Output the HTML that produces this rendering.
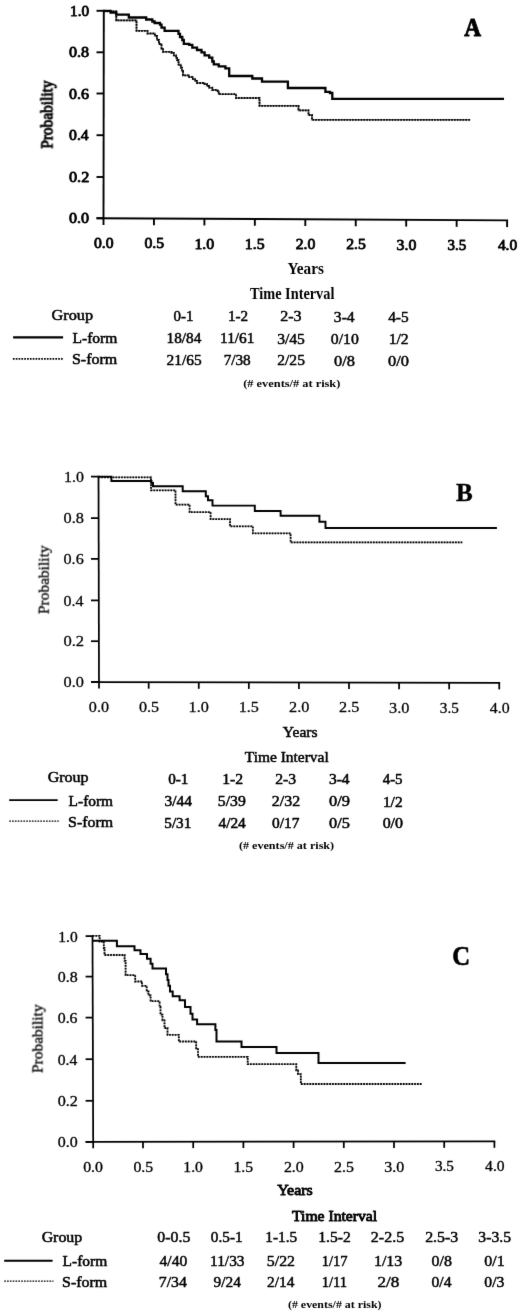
<!DOCTYPE html>
<html><head><meta charset="utf-8"><style>
html,body{margin:0;padding:0;background:#fff;}
body{width:520px;height:1313px;overflow:hidden;}
svg{display:block;font-family:"Liberation Serif", serif;}
text{fill:#000;}
</style></head><body>
<svg width="520" height="1313" viewBox="0 0 520 1313">
<defs><filter id="soft" x="0" y="0" width="520" height="1313" filterUnits="userSpaceOnUse" color-interpolation-filters="sRGB"><feConvolveMatrix order="3" kernelMatrix="0.0052 0.0619 0.0052 0.0619 0.7314 0.0619 0.0052 0.0619 0.0052" divisor="1" preserveAlpha="false" edgeMode="none"/></filter></defs>
<rect width="520" height="1313" fill="#fff"/>
<g filter="url(#soft)">
<text transform="matrix(15.223,0,0,14.632,70.055,15.956)" font-size="1" stroke="#000" stroke-width="0.85" vector-effect="non-scaling-stroke" stroke-linejoin="round">1.0</text>
<text transform="matrix(16.111,0,0,14.632,68.981,57.456)" font-size="1" stroke="#000" stroke-width="0.85" vector-effect="non-scaling-stroke" stroke-linejoin="round">0.8</text>
<text transform="matrix(15.975,0,0,14.632,68.986,98.656)" font-size="1" stroke="#000" stroke-width="0.85" vector-effect="non-scaling-stroke" stroke-linejoin="round">0.6</text>
<text transform="matrix(15.774,0,0,14.632,68.994,140.356)" font-size="1" stroke="#000" stroke-width="0.85" vector-effect="non-scaling-stroke" stroke-linejoin="round">0.4</text>
<text transform="matrix(16.32,0,0,14.632,68.972,182.156)" font-size="1" stroke="#000" stroke-width="0.85" vector-effect="non-scaling-stroke" stroke-linejoin="round">0.2</text>
<text transform="matrix(16.111,0,0,14.632,68.981,223.356)" font-size="1" stroke="#000" stroke-width="0.85" vector-effect="non-scaling-stroke" stroke-linejoin="round">0.0</text>
<text transform="matrix(15.684,0,0,14.779,93.998,247.953)" font-size="1" stroke="#000" stroke-width="0.85" vector-effect="non-scaling-stroke" stroke-linejoin="round">0.0</text>
<text transform="matrix(15.684,0,0,14.779,144.448,248.241)" font-size="1" stroke="#000" stroke-width="0.85" vector-effect="non-scaling-stroke" stroke-linejoin="round">0.5</text>
<text transform="matrix(15.848,0,0,14.779,194.399,248.528)" font-size="1" stroke="#000" stroke-width="0.85" vector-effect="non-scaling-stroke" stroke-linejoin="round">1.0</text>
<text transform="matrix(15.848,0,0,15,244.849,248.812)" font-size="1" stroke="#000" stroke-width="0.85" vector-effect="non-scaling-stroke" stroke-linejoin="round">1.5</text>
<text transform="matrix(15.751,0,0,14.779,295.716,249.103)" font-size="1" stroke="#000" stroke-width="0.85" vector-effect="non-scaling-stroke" stroke-linejoin="round">2.0</text>
<text transform="matrix(15.751,0,0,14.889,346.166,249.389)" font-size="1" stroke="#000" stroke-width="0.85" vector-effect="non-scaling-stroke" stroke-linejoin="round">2.5</text>
<text transform="matrix(15.819,0,0,14.779,396.534,249.678)" font-size="1" stroke="#000" stroke-width="0.85" vector-effect="non-scaling-stroke" stroke-linejoin="round">3.0</text>
<text transform="matrix(14.957,0,0,14.889,447.527,249.964)" font-size="1" stroke="#000" stroke-width="0.85" vector-effect="non-scaling-stroke" stroke-linejoin="round">3.5</text>
<text transform="matrix(15.42,0,0,14.779,497.917,250.253)" font-size="1" stroke="#000" stroke-width="0.85" vector-effect="non-scaling-stroke" stroke-linejoin="round">4.0</text>
<text transform="matrix(0,-15.397,15.667,0,52.76,148.812)" font-size="1" stroke="#000" stroke-width="0.9" vector-effect="non-scaling-stroke" stroke-linejoin="round">Probability</text>
<text transform="matrix(23.262,0,0,25.802,464.217,36.179)" font-size="1" font-weight="bold" stroke="#000" stroke-width="0.9" vector-effect="non-scaling-stroke" stroke-linejoin="round">A</text>
<text transform="matrix(15.267,0,0,17.424,287.495,273.826)" font-size="1" font-weight="bold">Years</text>
<text transform="matrix(14.322,0,0,16.286,249.985,299.237)" font-size="1" font-weight="bold">Time Interval</text>
<text transform="matrix(16.263,0,0,15.345,51.524,320.303)" font-size="1" stroke="#000" stroke-width="0.55" vector-effect="non-scaling-stroke" stroke-linejoin="round">Group</text>
<text transform="matrix(15.511,0,0,14.577,72.51,342.879)" font-size="1" stroke="#000" stroke-width="0.55" vector-effect="non-scaling-stroke" stroke-linejoin="round">L-form</text>
<text transform="matrix(16.018,0,0,15,71.934,364.275)" font-size="1" stroke="#000" stroke-width="0.55" vector-effect="non-scaling-stroke" stroke-linejoin="round">S-form</text>
<text transform="matrix(14.959,0,0,14.815,173.452,320.902)" font-size="1" stroke="#000" stroke-width="0.5" vector-effect="non-scaling-stroke" stroke-linejoin="round">0-1</text>
<text transform="matrix(15.19,0,0,15.303,227.883,321.15)" font-size="1" stroke="#000" stroke-width="0.5" vector-effect="non-scaling-stroke" stroke-linejoin="round">1-2</text>
<text transform="matrix(16.08,0,0,15.075,280.126,321.399)" font-size="1" stroke="#000" stroke-width="0.5" vector-effect="non-scaling-stroke" stroke-linejoin="round">2-3</text>
<text transform="matrix(15.573,0,0,15.075,333.871,321.599)" font-size="1" stroke="#000" stroke-width="0.5" vector-effect="non-scaling-stroke" stroke-linejoin="round">3-4</text>
<text transform="matrix(15.373,0,0,15.188,388.143,321.898)" font-size="1" stroke="#000" stroke-width="0.5" vector-effect="non-scaling-stroke" stroke-linejoin="round">4-5</text>
<text transform="matrix(15.253,0,0,14.963,166.577,343.1)" font-size="1" stroke="#000" stroke-width="0.5" vector-effect="non-scaling-stroke" stroke-linejoin="round">18/84</text>
<text transform="matrix(15.359,0,0,15.224,220.068,343.298)" font-size="1" stroke="#000" stroke-width="0.5" vector-effect="non-scaling-stroke" stroke-linejoin="round">11/61</text>
<text transform="matrix(15.621,0,0,15.224,277.169,343.798)" font-size="1" stroke="#000" stroke-width="0.5" vector-effect="non-scaling-stroke" stroke-linejoin="round">3/45</text>
<text transform="matrix(15.765,0,0,15.111,330.819,344.099)" font-size="1" stroke="#000" stroke-width="0.5" vector-effect="non-scaling-stroke" stroke-linejoin="round">0/10</text>
<text transform="matrix(15.752,0,0,15.373,388.632,344.396)" font-size="1" stroke="#000" stroke-width="0.5" vector-effect="non-scaling-stroke" stroke-linejoin="round">1/2</text>
<text transform="matrix(15.444,0,0,15.373,166.455,364.596)" font-size="1" stroke="#000" stroke-width="0.5" vector-effect="non-scaling-stroke" stroke-linejoin="round">21/65</text>
<text transform="matrix(15.224,0,0,15.259,223.66,364.797)" font-size="1" stroke="#000" stroke-width="0.5" vector-effect="non-scaling-stroke" stroke-linejoin="round">7/38</text>
<text transform="matrix(15.575,0,0,15.373,277.249,365.396)" font-size="1" stroke="#000" stroke-width="0.5" vector-effect="non-scaling-stroke" stroke-linejoin="round">2/25</text>
<text transform="matrix(16.417,0,0,15.259,333.993,365.797)" font-size="1" stroke="#000" stroke-width="0.5" vector-effect="non-scaling-stroke" stroke-linejoin="round">0/8</text>
<text transform="matrix(16.417,0,0,15.259,388.093,366.397)" font-size="1" stroke="#000" stroke-width="0.5" vector-effect="non-scaling-stroke" stroke-linejoin="round">0/0</text>
<text transform="matrix(12.368,0,0,11.222,243.243,386.543)" font-size="1" font-weight="bold">(# events/# at risk)</text>
<text transform="matrix(15.893,0,0,15,64.02,481.825)" font-size="1" stroke="#000" stroke-width="0.3" vector-effect="non-scaling-stroke" stroke-linejoin="round">1.0</text>
<text transform="matrix(16.325,0,0,15,63.497,523.325)" font-size="1" stroke="#000" stroke-width="0.3" vector-effect="non-scaling-stroke" stroke-linejoin="round">0.8</text>
<text transform="matrix(16.186,0,0,15,63.503,564.125)" font-size="1" stroke="#000" stroke-width="0.3" vector-effect="non-scaling-stroke" stroke-linejoin="round">0.6</text>
<text transform="matrix(15.983,0,0,15,63.511,605.625)" font-size="1" stroke="#000" stroke-width="0.3" vector-effect="non-scaling-stroke" stroke-linejoin="round">0.4</text>
<text transform="matrix(16.537,0,0,15,63.489,646.425)" font-size="1" stroke="#000" stroke-width="0.3" vector-effect="non-scaling-stroke" stroke-linejoin="round">0.2</text>
<text transform="matrix(16.325,0,0,15,63.497,687.125)" font-size="1" stroke="#000" stroke-width="0.3" vector-effect="non-scaling-stroke" stroke-linejoin="round">0.0</text>
<text transform="matrix(16.154,0,0,14.706,88.804,711.929)" font-size="1" stroke="#000" stroke-width="0.3" vector-effect="non-scaling-stroke" stroke-linejoin="round">0.0</text>
<text transform="matrix(16.154,0,0,14.706,138.884,712.029)" font-size="1" stroke="#000" stroke-width="0.3" vector-effect="non-scaling-stroke" stroke-linejoin="round">0.5</text>
<text transform="matrix(16.161,0,0,14.706,188.556,712.129)" font-size="1" stroke="#000" stroke-width="0.3" vector-effect="non-scaling-stroke" stroke-linejoin="round">1.0</text>
<text transform="matrix(16.161,0,0,14.925,238.636,712.226)" font-size="1" stroke="#000" stroke-width="0.3" vector-effect="non-scaling-stroke" stroke-linejoin="round">1.5</text>
<text transform="matrix(16.223,0,0,14.706,289.04,712.329)" font-size="1" stroke="#000" stroke-width="0.3" vector-effect="non-scaling-stroke" stroke-linejoin="round">2.0</text>
<text transform="matrix(16.223,0,0,14.815,339.12,712.428)" font-size="1" stroke="#000" stroke-width="0.3" vector-effect="non-scaling-stroke" stroke-linejoin="round">2.5</text>
<text transform="matrix(16.293,0,0,14.706,389.115,712.529)" font-size="1" stroke="#000" stroke-width="0.3" vector-effect="non-scaling-stroke" stroke-linejoin="round">3.0</text>
<text transform="matrix(15.259,0,0,14.815,439.847,712.628)" font-size="1" stroke="#000" stroke-width="0.3" vector-effect="non-scaling-stroke" stroke-linejoin="round">3.5</text>
<text transform="matrix(15.882,0,0,14.706,489.772,712.729)" font-size="1" stroke="#000" stroke-width="0.3" vector-effect="non-scaling-stroke" stroke-linejoin="round">4.0</text>
<text transform="matrix(0,-15.465,15.556,0,48.483,614.114)" font-size="1" stroke="#000" stroke-width="0.3" vector-effect="non-scaling-stroke" stroke-linejoin="round">Probability</text>
<text transform="matrix(25.12,0,0,25.802,456.023,500.9)" font-size="1" font-weight="bold" stroke="#000" stroke-width="0.4" vector-effect="non-scaling-stroke" stroke-linejoin="round">B</text>
<text transform="matrix(15.606,0,0,15,282.794,736.5)" font-size="1" stroke="#000" stroke-width="0.5" vector-effect="non-scaling-stroke" stroke-linejoin="round">Years</text>
<text transform="matrix(15.477,0,0,14.286,244.74,762.007)" font-size="1" stroke="#000" stroke-width="0.5" vector-effect="non-scaling-stroke" stroke-linejoin="round">Time Interval</text>
<text transform="matrix(16.02,0,0,15.23,47.634,782.327)" font-size="1" stroke="#000" stroke-width="0.55" vector-effect="non-scaling-stroke" stroke-linejoin="round">Group</text>
<text transform="matrix(15.405,0,0,14.577,68.613,805.679)" font-size="1" stroke="#000" stroke-width="0.55" vector-effect="non-scaling-stroke" stroke-linejoin="round">L-form</text>
<text transform="matrix(15.909,0,0,15.563,68.041,827.369)" font-size="1" stroke="#000" stroke-width="0.55" vector-effect="non-scaling-stroke" stroke-linejoin="round">S-form</text>
<text transform="matrix(15.163,0,0,14.593,168.168,783.979)" font-size="1" stroke="#000" stroke-width="0.55" vector-effect="non-scaling-stroke" stroke-linejoin="round">0-1</text>
<text transform="matrix(15.738,0,0,14.924,222.159,784.125)" font-size="1" stroke="#000" stroke-width="0.55" vector-effect="non-scaling-stroke" stroke-linejoin="round">1-2</text>
<text transform="matrix(15.72,0,0,14.701,275.168,783.978)" font-size="1" stroke="#000" stroke-width="0.55" vector-effect="non-scaling-stroke" stroke-linejoin="round">2-3</text>
<text transform="matrix(15.534,0,0,14.701,328.898,783.978)" font-size="1" stroke="#000" stroke-width="0.55" vector-effect="non-scaling-stroke" stroke-linejoin="round">3-4</text>
<text transform="matrix(14.941,0,0,14.962,382.676,783.575)" font-size="1" stroke="#000" stroke-width="0.55" vector-effect="non-scaling-stroke" stroke-linejoin="round">4-5</text>
<text transform="matrix(15.409,0,0,14.701,164.505,806.478)" font-size="1" stroke="#000" stroke-width="0.55" vector-effect="non-scaling-stroke" stroke-linejoin="round">3/44</text>
<text transform="matrix(15.731,0,0,14.701,217.831,806.478)" font-size="1" stroke="#000" stroke-width="0.55" vector-effect="non-scaling-stroke" stroke-linejoin="round">5/39</text>
<text transform="matrix(15.97,0,0,14.701,271.856,806.478)" font-size="1" stroke="#000" stroke-width="0.55" vector-effect="non-scaling-stroke" stroke-linejoin="round">2/32</text>
<text transform="matrix(16.444,0,0,14.593,329.017,806.479)" font-size="1" stroke="#000" stroke-width="0.55" vector-effect="non-scaling-stroke" stroke-linejoin="round">0/9</text>
<text transform="matrix(15.442,0,0,14.701,382.885,806.778)" font-size="1" stroke="#000" stroke-width="0.55" vector-effect="non-scaling-stroke" stroke-linejoin="round">1/2</text>
<text transform="matrix(15.136,0,0,15,164.367,828.275)" font-size="1" stroke="#000" stroke-width="0.55" vector-effect="non-scaling-stroke" stroke-linejoin="round">5/31</text>
<text transform="matrix(15.374,0,0,15,218.468,828.275)" font-size="1" stroke="#000" stroke-width="0.55" vector-effect="non-scaling-stroke" stroke-linejoin="round">4/24</text>
<text transform="matrix(15.409,0,0,14.889,271.959,828.276)" font-size="1" stroke="#000" stroke-width="0.55" vector-effect="non-scaling-stroke" stroke-linejoin="round">0/17</text>
<text transform="matrix(16.375,0,0,14.889,329.02,828.276)" font-size="1" stroke="#000" stroke-width="0.55" vector-effect="non-scaling-stroke" stroke-linejoin="round">0/5</text>
<text transform="matrix(15.958,0,0,14.889,382.637,828.176)" font-size="1" stroke="#000" stroke-width="0.55" vector-effect="non-scaling-stroke" stroke-linejoin="round">0/0</text>
<text transform="matrix(12.124,0,0,11.333,238.954,849.12)" font-size="1" font-weight="bold">(# events/# at risk)</text>
<text transform="matrix(15.491,0,0,14.779,58.281,941.603)" font-size="1" stroke="#000" stroke-width="0.35" vector-effect="non-scaling-stroke" stroke-linejoin="round">1.0</text>
<text transform="matrix(15.94,0,0,14.779,57.737,982.103)" font-size="1" stroke="#000" stroke-width="0.35" vector-effect="non-scaling-stroke" stroke-linejoin="round">0.8</text>
<text transform="matrix(15.805,0,0,14.779,57.743,1023.103)" font-size="1" stroke="#000" stroke-width="0.35" vector-effect="non-scaling-stroke" stroke-linejoin="round">0.6</text>
<text transform="matrix(15.607,0,0,14.779,57.751,1064.703)" font-size="1" stroke="#000" stroke-width="0.35" vector-effect="non-scaling-stroke" stroke-linejoin="round">0.4</text>
<text transform="matrix(16.147,0,0,14.779,57.729,1106.303)" font-size="1" stroke="#000" stroke-width="0.35" vector-effect="non-scaling-stroke" stroke-linejoin="round">0.2</text>
<text transform="matrix(15.94,0,0,14.779,57.737,1147.403)" font-size="1" stroke="#000" stroke-width="0.35" vector-effect="non-scaling-stroke" stroke-linejoin="round">0.0</text>
<text transform="matrix(15.855,0,0,14.485,83.191,1172.108)" font-size="1" stroke="#000" stroke-width="0.35" vector-effect="non-scaling-stroke" stroke-linejoin="round">0.0</text>
<text transform="matrix(15.855,0,0,14.485,133.391,1172.008)" font-size="1" stroke="#000" stroke-width="0.35" vector-effect="non-scaling-stroke" stroke-linejoin="round">0.5</text>
<text transform="matrix(15.759,0,0,14.485,183.257,1171.908)" font-size="1" stroke="#000" stroke-width="0.35" vector-effect="non-scaling-stroke" stroke-linejoin="round">1.0</text>
<text transform="matrix(15.759,0,0,14.701,233.457,1171.804)" font-size="1" stroke="#000" stroke-width="0.35" vector-effect="non-scaling-stroke" stroke-linejoin="round">1.5</text>
<text transform="matrix(15.923,0,0,14.485,283.908,1171.708)" font-size="1" stroke="#000" stroke-width="0.35" vector-effect="non-scaling-stroke" stroke-linejoin="round">2.0</text>
<text transform="matrix(15.923,0,0,14.593,334.108,1171.606)" font-size="1" stroke="#000" stroke-width="0.35" vector-effect="non-scaling-stroke" stroke-linejoin="round">2.5</text>
<text transform="matrix(15.991,0,0,14.485,384.225,1171.508)" font-size="1" stroke="#000" stroke-width="0.35" vector-effect="non-scaling-stroke" stroke-linejoin="round">3.0</text>
<text transform="matrix(15.216,0,0,14.593,434.914,1171.406)" font-size="1" stroke="#000" stroke-width="0.35" vector-effect="non-scaling-stroke" stroke-linejoin="round">3.5</text>
<text transform="matrix(15.588,0,0,14.485,485.113,1171.308)" font-size="1" stroke="#000" stroke-width="0.35" vector-effect="non-scaling-stroke" stroke-linejoin="round">4.0</text>
<text transform="matrix(0,-15.454,15.5,0,42.47,1073.089)" font-size="1" stroke="#000" stroke-width="0.35" vector-effect="non-scaling-stroke" stroke-linejoin="round">Probability</text>
<text transform="matrix(24.706,0,0,26.716,452.265,964.933)" font-size="1" font-weight="bold" stroke="#000" stroke-width="0.6" vector-effect="non-scaling-stroke" stroke-linejoin="round">C</text>
<text transform="matrix(15.995,0,0,14.773,277.165,1195.127)" font-size="1" stroke="#000" stroke-width="0.85" vector-effect="non-scaling-stroke" stroke-linejoin="round">Years</text>
<text transform="matrix(15.672,0,0,14.214,292.012,1221.433)" font-size="1" stroke="#000" stroke-width="0.85" vector-effect="non-scaling-stroke" stroke-linejoin="round">Time Interval</text>
<text transform="matrix(15.899,0,0,14.77,41.639,1242.423)" font-size="1" stroke="#000" stroke-width="0.55" vector-effect="non-scaling-stroke" stroke-linejoin="round">Group</text>
<text transform="matrix(15.475,0,0,14.718,62.611,1266.078)" font-size="1" stroke="#000" stroke-width="0.55" vector-effect="non-scaling-stroke" stroke-linejoin="round">L-form</text>
<text transform="matrix(15.982,0,0,15.282,62.036,1287.372)" font-size="1" stroke="#000" stroke-width="0.55" vector-effect="non-scaling-stroke" stroke-linejoin="round">S-form</text>
<text transform="matrix(15.86,0,0,14.559,157.316,1241.832)" font-size="1" stroke="#000" stroke-width="0.5" vector-effect="non-scaling-stroke" stroke-linejoin="round">0-0.5</text>
<text transform="matrix(15.253,0,0,14.559,210.84,1241.832)" font-size="1" stroke="#000" stroke-width="0.5" vector-effect="non-scaling-stroke" stroke-linejoin="round">0.5-1</text>
<text transform="matrix(15.294,0,0,14.925,265.374,1241.926)" font-size="1" stroke="#000" stroke-width="0.5" vector-effect="non-scaling-stroke" stroke-linejoin="round">1-1.5</text>
<text transform="matrix(15.659,0,0,14.815,318.241,1241.928)" font-size="1" stroke="#000" stroke-width="0.5" vector-effect="non-scaling-stroke" stroke-linejoin="round">1.5-2</text>
<text transform="matrix(16.05,0,0,14.815,370.828,1242.328)" font-size="1" stroke="#000" stroke-width="0.5" vector-effect="non-scaling-stroke" stroke-linejoin="round">2-2.5</text>
<text transform="matrix(15.9,0,0,14.815,425.135,1242.328)" font-size="1" stroke="#000" stroke-width="0.5" vector-effect="non-scaling-stroke" stroke-linejoin="round">2.5-3</text>
<text transform="matrix(15.689,0,0,14.815,478.366,1242.328)" font-size="1" stroke="#000" stroke-width="0.5" vector-effect="non-scaling-stroke" stroke-linejoin="round">3-3.5</text>
<text transform="matrix(15.581,0,0,14.963,159.538,1265.7)" font-size="1" stroke="#000" stroke-width="0.5" vector-effect="non-scaling-stroke" stroke-linejoin="round">4/40</text>
<text transform="matrix(15.403,0,0,15.075,210.064,1265.699)" font-size="1" stroke="#000" stroke-width="0.5" vector-effect="non-scaling-stroke" stroke-linejoin="round">11/33</text>
<text transform="matrix(15.904,0,0,15.075,266.796,1265.699)" font-size="1" stroke="#000" stroke-width="0.5" vector-effect="non-scaling-stroke" stroke-linejoin="round">5/22</text>
<text transform="matrix(14.518,0,0,15.188,321.643,1265.698)" font-size="1" stroke="#000" stroke-width="0.5" vector-effect="non-scaling-stroke" stroke-linejoin="round">1/17</text>
<text transform="matrix(15.939,0,0,15.075,373.915,1265.699)" font-size="1" stroke="#000" stroke-width="0.5" vector-effect="non-scaling-stroke" stroke-linejoin="round">1/13</text>
<text transform="matrix(15.917,0,0,14.963,431.513,1265.7)" font-size="1" stroke="#000" stroke-width="0.5" vector-effect="non-scaling-stroke" stroke-linejoin="round">0/8</text>
<text transform="matrix(16,0,0,14.963,484.31,1265.7)" font-size="1" stroke="#000" stroke-width="0.5" vector-effect="non-scaling-stroke" stroke-linejoin="round">0/1</text>
<text transform="matrix(15.811,0,0,14.925,158.822,1287.401)" font-size="1" stroke="#000" stroke-width="0.5" vector-effect="non-scaling-stroke" stroke-linejoin="round">7/34</text>
<text transform="matrix(15.318,0,0,14.925,213.59,1287.401)" font-size="1" stroke="#000" stroke-width="0.5" vector-effect="non-scaling-stroke" stroke-linejoin="round">9/24</text>
<text transform="matrix(15.394,0,0,14.925,267.057,1287.401)" font-size="1" stroke="#000" stroke-width="0.5" vector-effect="non-scaling-stroke" stroke-linejoin="round">2/14</text>
<text transform="matrix(14.528,0,0,15.038,321.642,1287.4)" font-size="1" stroke="#000" stroke-width="0.5" vector-effect="non-scaling-stroke" stroke-linejoin="round">1/11</text>
<text transform="matrix(17.155,0,0,14.815,377.478,1287.402)" font-size="1" stroke="#000" stroke-width="0.5" vector-effect="non-scaling-stroke" stroke-linejoin="round">2/8</text>
<text transform="matrix(15.656,0,0,14.815,431.524,1287.402)" font-size="1" stroke="#000" stroke-width="0.5" vector-effect="non-scaling-stroke" stroke-linejoin="round">0/4</text>
<text transform="matrix(15.667,0,0,14.815,484.323,1287.402)" font-size="1" stroke="#000" stroke-width="0.5" vector-effect="non-scaling-stroke" stroke-linejoin="round">0/3</text>
<text transform="matrix(11.918,0,0,11,287.964,1307.99)" font-size="1" font-weight="bold">(# events/# at risk)</text>
<line x1="103.8" y1="9.85" x2="103.5" y2="224.9" stroke="#000" stroke-width="1.9"/>
<line x1="96.5" y1="10.8" x2="103.8" y2="10.8" stroke="#000" stroke-width="1.9"/>
<line x1="96.5" y1="52.3" x2="103.742" y2="52.3" stroke="#000" stroke-width="1.9"/>
<line x1="96.5" y1="93.5" x2="103.684" y2="93.5" stroke="#000" stroke-width="1.9"/>
<line x1="96.5" y1="135.2" x2="103.626" y2="135.2" stroke="#000" stroke-width="1.9"/>
<line x1="96.5" y1="177" x2="103.567" y2="177" stroke="#000" stroke-width="1.9"/>
<line x1="96.5" y1="218.2" x2="103.509" y2="218.2" stroke="#000" stroke-width="1.9"/>
<line x1="96.5" y1="218.2" x2="508.05" y2="220.4" stroke="#000" stroke-width="1.9"/>
<line x1="153.95" y1="218.475" x2="153.95" y2="225.175" stroke="#000" stroke-width="1.9"/>
<line x1="204.4" y1="218.75" x2="204.4" y2="225.45" stroke="#000" stroke-width="1.9"/>
<line x1="254.85" y1="219.025" x2="254.85" y2="225.725" stroke="#000" stroke-width="1.9"/>
<line x1="305.3" y1="219.3" x2="305.3" y2="226" stroke="#000" stroke-width="1.9"/>
<line x1="355.75" y1="219.575" x2="355.75" y2="226.275" stroke="#000" stroke-width="1.9"/>
<line x1="406.2" y1="219.85" x2="406.2" y2="226.55" stroke="#000" stroke-width="1.9"/>
<line x1="456.65" y1="220.125" x2="456.65" y2="226.825" stroke="#000" stroke-width="1.9"/>
<line x1="507.1" y1="220.4" x2="507.1" y2="227.1" stroke="#000" stroke-width="1.9"/>
<line x1="98.5" y1="475.725" x2="99" y2="688.6" stroke="#000" stroke-width="1.75"/>
<line x1="91" y1="476.6" x2="98.5" y2="476.6" stroke="#000" stroke-width="1.75"/>
<line x1="91" y1="518.1" x2="98.598" y2="518.1" stroke="#000" stroke-width="1.75"/>
<line x1="91" y1="558.9" x2="98.694" y2="558.9" stroke="#000" stroke-width="1.75"/>
<line x1="91" y1="600.4" x2="98.792" y2="600.4" stroke="#000" stroke-width="1.75"/>
<line x1="91" y1="641.2" x2="98.888" y2="641.2" stroke="#000" stroke-width="1.75"/>
<line x1="91" y1="681.9" x2="98.984" y2="681.9" stroke="#000" stroke-width="1.75"/>
<line x1="91" y1="682" x2="500.115" y2="682.8" stroke="#000" stroke-width="1.75"/>
<line x1="148.68" y1="682.1" x2="148.68" y2="688.7" stroke="#000" stroke-width="1.75"/>
<line x1="198.76" y1="682.2" x2="198.76" y2="688.8" stroke="#000" stroke-width="1.75"/>
<line x1="248.84" y1="682.3" x2="248.84" y2="688.9" stroke="#000" stroke-width="1.75"/>
<line x1="298.92" y1="682.4" x2="298.92" y2="689" stroke="#000" stroke-width="1.75"/>
<line x1="349" y1="682.5" x2="349" y2="689.1" stroke="#000" stroke-width="1.75"/>
<line x1="399.08" y1="682.6" x2="399.08" y2="689.2" stroke="#000" stroke-width="1.75"/>
<line x1="449.16" y1="682.7" x2="449.16" y2="689.3" stroke="#000" stroke-width="1.75"/>
<line x1="499.24" y1="682.8" x2="499.24" y2="689.4" stroke="#000" stroke-width="1.75"/>
<line x1="92.5" y1="935.225" x2="93.2" y2="1148.2" stroke="#000" stroke-width="1.75"/>
<line x1="85.6" y1="936.1" x2="92.5" y2="936.1" stroke="#000" stroke-width="1.75"/>
<line x1="85.6" y1="976.6" x2="92.634" y2="976.6" stroke="#000" stroke-width="1.75"/>
<line x1="85.6" y1="1017.6" x2="92.769" y2="1017.6" stroke="#000" stroke-width="1.75"/>
<line x1="85.6" y1="1059.2" x2="92.906" y2="1059.2" stroke="#000" stroke-width="1.75"/>
<line x1="85.6" y1="1100.8" x2="93.044" y2="1100.8" stroke="#000" stroke-width="1.75"/>
<line x1="85.6" y1="1141.9" x2="93.179" y2="1141.9" stroke="#000" stroke-width="1.75"/>
<line x1="85.6" y1="1141.8" x2="495.275" y2="1141.4" stroke="#000" stroke-width="1.75"/>
<line x1="143" y1="1141.75" x2="143" y2="1148.15" stroke="#000" stroke-width="1.75"/>
<line x1="193.2" y1="1141.7" x2="193.2" y2="1148.1" stroke="#000" stroke-width="1.75"/>
<line x1="243.4" y1="1141.65" x2="243.4" y2="1148.05" stroke="#000" stroke-width="1.75"/>
<line x1="293.6" y1="1141.6" x2="293.6" y2="1148" stroke="#000" stroke-width="1.75"/>
<line x1="343.8" y1="1141.55" x2="343.8" y2="1147.95" stroke="#000" stroke-width="1.75"/>
<line x1="394" y1="1141.5" x2="394" y2="1147.9" stroke="#000" stroke-width="1.75"/>
<line x1="444.2" y1="1141.45" x2="444.2" y2="1147.85" stroke="#000" stroke-width="1.75"/>
<line x1="494.4" y1="1141.4" x2="494.4" y2="1147.8" stroke="#000" stroke-width="1.75"/>
<path d="M104,10.8 H110.6 V12.7 H116.3 V14.6 H128.8 V17.5 H146.2 V19.5 H152.3 V21.5 H154.6 V23 H160 V24.6 H161.5 V27.7 H164.6 V30.8 H178.5 V33.8 H180 V37 H182.3 V40 H183.8 V43.8 H189.2 V44.8 H192.3 V47.7 H197 V50 H201.5 V52.3 H204.6 V55.4 H209.2 V57.7 H212.3 V61.5 H213.8 V64.4 H218.7 V66.3 H225.4 V68.3 H229.2 V76 H252.3 V78.5 H262 V81.7 H287.9 V88 H325.4 V91.9 H330 V93 H332.3 V98.8 H504" fill="none" stroke="#000" stroke-width="2.3" stroke-linejoin="miter" stroke-linecap="butt"/>
<path d="M104,11.3 H116.3 V20.4 H136.5 V30.8 H147.5 V33.5 H155 V36 H157 V40 H159 V44 H161.5 V49.2 H163 V51.8 H171.5 V53 H173.8 V55.4 H176 V58 H177 V60 H178.5 V64.6 H180.8 V67.7 H182 V71 H183 V75.4 H189.2 V77 H193 V79.2 H195 V81 H197 V83 H204.6 V84 H207 V86 H209.2 V87.7 H212.3 V90 H217.7 V91 H218.7 V94.2 H236 V98 H259.5 V105.8 H298.5 V110.4 H308.5 V115 H312 V119.8 H470.4" fill="none" stroke="#000" stroke-opacity="0.6" stroke-width="1.62" stroke-linejoin="miter"/>
<path d="M104,11.3 H116.3 V20.4 H136.5 V30.8 H147.5 V33.5 H155 V36 H157 V40 H159 V44 H161.5 V49.2 H163 V51.8 H171.5 V53 H173.8 V55.4 H176 V58 H177 V60 H178.5 V64.6 H180.8 V67.7 H182 V71 H183 V75.4 H189.2 V77 H193 V79.2 H195 V81 H197 V83 H204.6 V84 H207 V86 H209.2 V87.7 H212.3 V90 H217.7 V91 H218.7 V94.2 H236 V98 H259.5 V105.8 H298.5 V110.4 H308.5 V115 H312 V119.8 H470.4" fill="none" stroke="#000" stroke-width="1.8" stroke-dasharray="1.7 1.13" stroke-linecap="butt" stroke-linejoin="miter"/>
<path d="M98.5,476.6 H111.4 V480.9 H151.5 V483 H153 V486.2 H182.7 V491.2 H205.8 V496.2 H208 V500.2 H212.5 V505.6 H254.8 V511 H280.6 V515.8 H319.4 V521.7 H325.5 V528 H496.9" fill="none" stroke="#000" stroke-width="1.95" stroke-linejoin="miter" stroke-linecap="butt"/>
<path d="M98.5,477.3 H151 V490.3 H175.5 V504.6 H189.6 V512.2 H210.6 V519 H230 V526.3 H252.9 V533.3 H290.6 V542.4 H462.3" fill="none" stroke="#000" stroke-opacity="0.3" stroke-width="1.57" stroke-linejoin="miter"/>
<path d="M98.5,477.3 H151 V490.3 H175.5 V504.6 H189.6 V512.2 H210.6 V519 H230 V526.3 H252.9 V533.3 H290.6 V542.4 H462.3" fill="none" stroke="#000" stroke-width="1.75" stroke-dasharray="1.7 1.13" stroke-linecap="butt" stroke-linejoin="miter"/>
<path d="M92.6,940.8 H116.9 V946.3 H134.5 V950.2 H140.5 V954 H147 V958.8 H150.6 V963.7 H152.5 V968.5 H166 V974.2 H167.5 V980 H168.5 V985.8 H170 V991.5 H172.7 V996.3 H179.6 V1000.2 H185 V1007 H190.5 V1013.7 H192.5 V1019.4 H197.1 V1024.2 H215.4 V1030 H216.5 V1041.5 H241.5 V1047 H276.5 V1053.1 H318.5 V1063.1 H405.6" fill="none" stroke="#000" stroke-width="2.0" stroke-linejoin="miter" stroke-linecap="butt"/>
<path d="M92.6,935.8 H99.6 V941.5 H103.8 V948 H104.5 V955 H124.6 V960.8 H125.6 V975.2 H135.2 V981.5 H142 V985.8 H146.7 V991.5 H148.5 V995.4 H150.6 V1001.2 H159.6 V1007 H160.5 V1014.6 H162.5 V1020.4 H164.5 V1028 H167.5 V1034.8 H178.8 V1041.5 H196.2 V1049.2 H198 V1056.8 H247.7 V1064.2 H296.3 V1070.4 H298 V1074.2 H300.8 V1084 H421.7" fill="none" stroke="#000" stroke-opacity="0.3" stroke-width="1.62" stroke-linejoin="miter"/>
<path d="M92.6,935.8 H99.6 V941.5 H103.8 V948 H104.5 V955 H124.6 V960.8 H125.6 V975.2 H135.2 V981.5 H142 V985.8 H146.7 V991.5 H148.5 V995.4 H150.6 V1001.2 H159.6 V1007 H160.5 V1014.6 H162.5 V1020.4 H164.5 V1028 H167.5 V1034.8 H178.8 V1041.5 H196.2 V1049.2 H198 V1056.8 H247.7 V1064.2 H296.3 V1070.4 H298 V1074.2 H300.8 V1084 H421.7" fill="none" stroke="#000" stroke-width="1.8" stroke-dasharray="1.7 1.13" stroke-linecap="butt" stroke-linejoin="miter"/>
<line x1="13.1" y1="337.4" x2="63.1" y2="337.4" stroke="#000" stroke-width="2.2"/>
<line x1="12.9" y1="358.8" x2="62.8" y2="358.8" stroke="#000" stroke-width="1.7" stroke-dasharray="1.7 1.13"/>
<line x1="9.2" y1="800.1" x2="57.7" y2="800.1" stroke="#000" stroke-width="1.8"/>
<line x1="9.2" y1="821.1" x2="58.8" y2="821.1" stroke="#000" stroke-width="1.35" stroke-dasharray="1.7 1.13"/>
<line x1="4.2" y1="1260.8" x2="52.6" y2="1260.8" stroke="#000" stroke-width="2.1"/>
<line x1="4.2" y1="1281.1" x2="53.5" y2="1281.1" stroke="#000" stroke-width="1.45" stroke-dasharray="1.7 1.13"/>
</g>
</svg>
</body></html>
